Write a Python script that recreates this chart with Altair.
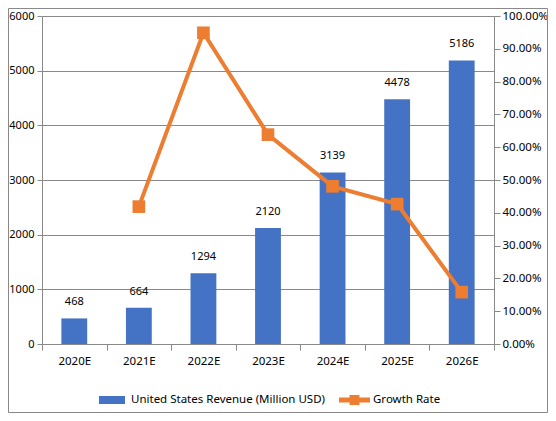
import altair as alt
import pandas as pd

# values
years = ["2020E", "2021E", "2022E", "2023E", "2024E", "2025E", "2026E"]
revenue = [468, 664, 1294, 2120, 3139, 4478, 5186]
growth = [None, 0.4188, 0.9488, 0.6383, 0.4807, 0.4266, 0.1581]
left_ticks = [0, 1000, 2000, 3000, 4000, 5000, 6000]
right_ticks = [0.0, 0.1, 0.2, 0.3, 0.4, 0.5, 0.6, 0.7, 0.8, 0.9, 1.0]

REV_NAME = "United States Revenue (Million USD)"
GROWTH_NAME = "Growth Rate"
BLUE = "#4472C4"
ORANGE = "#ED7D31"
GREY = "#898989"
FONT = "Noto Sans"

df = pd.DataFrame({"year": years, "revenue": revenue, "growth": growth})
df["rev_series"] = REV_NAME
df["rate_series"] = GROWTH_NAME

x_enc = alt.X("year:N", sort=years, title=None,
              scale=alt.Scale(paddingInner=0, paddingOuter=0),
              axis=alt.Axis(tickBand="extent", labelAngle=0, domainColor=GREY,
                            tickColor=GREY, tickSize=6, labelPadding=5,
                            labelFontSize=11.5, labelColor="#000", labelFont=FONT))

y_left = alt.Y("revenue:Q", title=None,
               scale=alt.Scale(domain=[0, 6000], nice=False),
               axis=alt.Axis(values=left_ticks, format="d", grid=True, gridColor=GREY,
                             domainColor=GREY, tickColor=GREY, tickSize=5,
                             labelPadding=3, labelFontSize=11, labelColor="#000",
                             labelFont=FONT))

y_right = alt.Y("growth:Q", title=None,
                scale=alt.Scale(domain=[0, 1], nice=False),
                axis=alt.Axis(orient="right", values=right_ticks, format=".2%",
                              grid=False, domainColor=GREY, tickColor=GREY,
                              tickSize=6, labelPadding=2, labelFontSize=11.5,
                              labelColor="#000", labelFont=FONT))

# legend symbols: plain box for the bars, line with a square for the rate
line_sym = "M-1,-0.16H1V0.16H-1Z M-0.32,-0.32H0.32V0.32H-0.32Z"
bar_sym = "M-1,-0.31H1V0.31H-1Z"

def legend(x, y, sym, size, gap):
    return alt.Legend(title=None, orient="none", legendX=x, legendY=y,
                      labelFontSize=11.5, labelFont=FONT, labelColor="#000",
                      labelLimit=400, symbolType=sym, symbolSize=size,
                      symbolStrokeWidth=0, labelOffset=gap)

bars = alt.Chart(df).mark_bar(width=alt.RelativeBandSize(0.4)).encode(
    x=x_enc,
    y=y_left,
    color=alt.Color("rev_series:N",
                    scale=alt.Scale(domain=[REV_NAME], range=[BLUE]),
                    legend=legend(57, 371, bar_sym, 676, 6))
)

labels = alt.Chart(df).mark_text(dy=-16, fontSize=11, font=FONT, color="#000",
                                 baseline="middle").encode(
    x=x_enc, y=y_left, text="revenue:Q")

rate_line = alt.Chart(df).mark_line(color=ORANGE, strokeWidth=4).encode(
    x=x_enc, y=y_right)

rate_pts = alt.Chart(df).mark_point(shape="square", filled=True, size=160,
                                    opacity=1).encode(
    x=x_enc, y=y_right,
    color=alt.Color("rate_series:N",
                    scale=alt.Scale(domain=[GROWTH_NAME], range=[ORANGE]),
                    legend=legend(297, 368.5, line_sym, 961, 3))
)

left = alt.layer(bars, labels)
right = alt.layer(rate_line, rate_pts)

border = alt.Chart(pd.DataFrame({"a": [0]})).mark_rect(
    fillOpacity=0, stroke=GREY, strokeWidth=1).encode(
    x=alt.value(-33.5), x2=alt.value(505.5), y=alt.value(-7.5), y2=alt.value(396.5))

chart = alt.layer(left, right, border).resolve_scale(
    y="independent", color="independent"
).properties(
    width=452, height=328,
    autosize=alt.AutoSizeParams(type="none"),
    padding={"left": 34, "top": 8, "right": 54, "bottom": 69},
).configure_view(stroke=None)

chart.save("out.html", embed_options={"renderer": "svg", "actions": False})
